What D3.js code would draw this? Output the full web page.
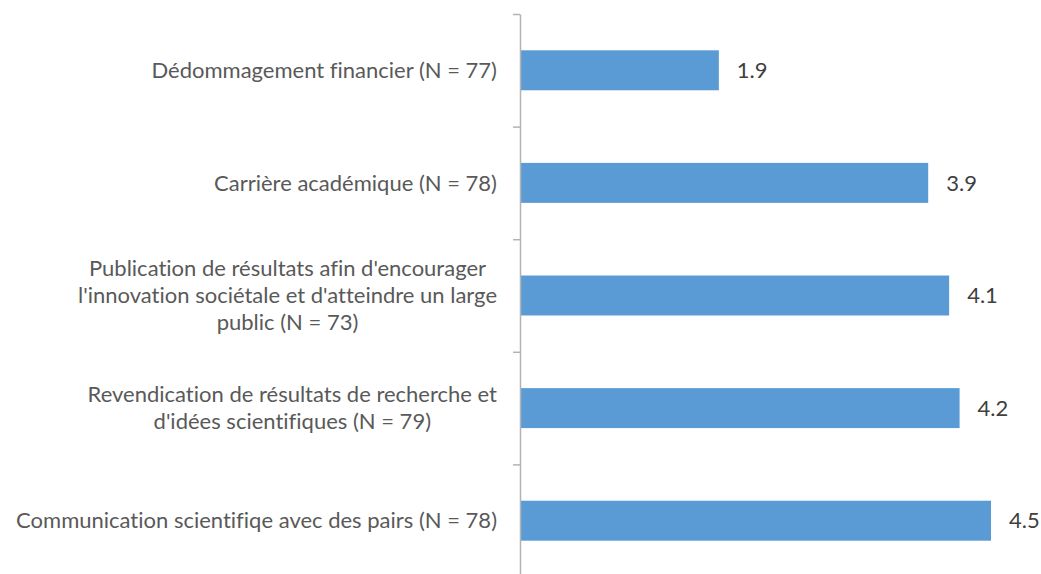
<!DOCTYPE html>
<html lang="fr">
<head>
  <meta charset="UTF-8">
  <title>chart</title>
  <script src="https://d3js.org/d3.v7.min.js"></script>
  <style>
    body { margin: 0; background: white; }
    text { font-family: Lato, "Open Sans", sans-serif; font-variant-ligatures: none; }
    .axis path, .axis line { stroke: #b3b3b3; stroke-width: 1.5px; }
  </style>
</head>
<body>
  <svg id="chart" width="1041" height="574"></svg>
  <script>
    // categories (lines of each wrapped label) and values
    const categories = [
      ["Dédommagement financier (N = 77)"],
      ["Carrière académique (N = 78)"],
      ["Publication de résultats afin d'encourager", "l'innovation sociétale et d'atteindre un large", "public (N = 73)"],
      ["Revendication de résultats de recherche et", "d'idées scientifiques (N = 79)"],
      ["Communication scientifiqe avec des pairs (N = 78)"]
    ];
    const values = [1.9, 3.9, 4.1, 4.2, 4.5];

    const svg = d3.select("#chart");
    const yTop = 14, yBottom = 577, axisX = 520;
    const labelRight = 497;
    const fontSize = 22, lineH = 27;

    const x = d3.scaleLinear().domain([0, 4.5]).range([axisX, 991]);
    const idx = d3.range(categories.length);
    const y = d3.scaleBand().domain(idx).range([yTop, yBottom])
      .paddingInner(0.645).paddingOuter(0.3225);
    const yEdge = d3.scaleLinear().domain([0, categories.length]).range([yTop, yBottom]);

    // bars
    svg.selectAll("rect.bar").data(idx)
      .join("rect")
      .attr("class", "bar")
      .attr("x", x(0))
      .attr("y", i => y(i))
      .attr("width", i => x(values[i]) - x(0))
      .attr("height", y.bandwidth())
      .attr("fill", "#5b9bd5");

    // axis with ticks between categories
    svg.append("g")
      .attr("class", "axis")
      .attr("transform", "translate(" + axisX + ",0)")
      .call(d3.axisLeft(yEdge).tickValues(d3.range(categories.length + 1))
        .tickSize(7).tickSizeOuter(0).tickFormat(""));

    // value labels
    svg.selectAll("text.val").data(idx)
      .join("text")
      .attr("class", "val")
      .attr("x", i => x(values[i]) + 18)
      .attr("y", i => y(i) + y.bandwidth() / 2)
      .attr("dy", "0.35em")
      .attr("font-size", fontSize)
      .attr("fill", "#404040")
      .text(i => values[i].toFixed(1));

    // category labels: centered block, right aligned
    idx.forEach(i => {
      const lines = categories[i];
      const g = svg.append("g");
      const cy = y(i) + y.bandwidth() / 2;
      const texts = lines.map((l, k) => g.append("text")
        .attr("font-size", fontSize)
        .attr("fill", "#595959")
        .attr("text-anchor", "middle")
        .attr("y", cy + (k - (lines.length - 1) / 2) * lineH)
        .attr("dy", "0.35em")
        .text(l));
      const maxW = d3.max(texts, t => t.node().getComputedTextLength());
      texts.forEach(t => t.attr("x", labelRight - maxW / 2));
    });
  </script>
</body>
</html>
